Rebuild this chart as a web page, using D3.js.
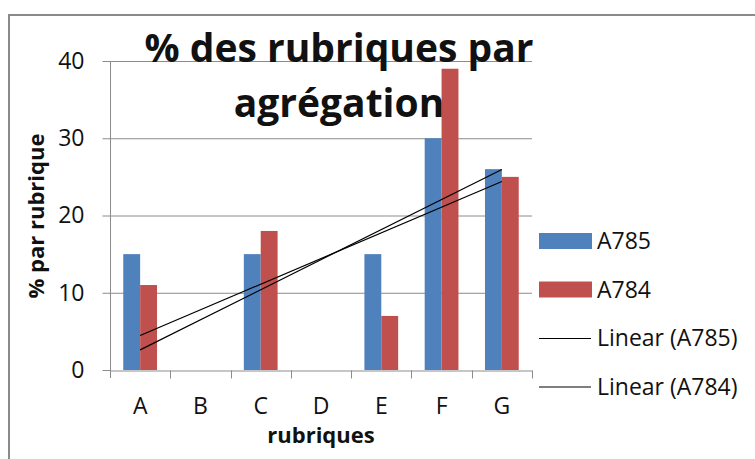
<!DOCTYPE html>
<meta charset="utf-8">
<style>
body { margin: 0; background: #fff; }
text { font-family: "Open Sans", sans-serif; fill: #111; }
.grid line { stroke: #8c8c8c; stroke-width: 1px; }
.trend { fill: none; stroke: #000; stroke-width: 1.2px; }
</style>
<body>
<svg id="chart" width="755" height="459"></svg>
<script src="https://d3js.org/d3.v7.min.js"></script>
<script>

// data
var categories = ["A", "B", "C", "D", "E", "F", "G"];
var seriesNames = ["A785", "A784"];
var a785 = [15, 0, 15, 0, 15, 30, 26];
var a784 = [11, 0, 18, 0, 7, 39, 25];
var yTicks = [0, 10, 20, 30, 40];
var colors = ["#4f81bd", "#c0504d"];

var plot = {left: 110, right: 532, top: 61, bottom: 370};

var svg = d3.select("#chart");

// chart frame (left and top edges only are visible)
svg.append("path")
    .attr("d", "M9,459V15H755")
    .attr("fill", "none")
    .attr("stroke", "#8a8a8a")
    .attr("stroke-width", 2);

var x = d3.scaleBand().domain(categories).range([plot.left, plot.right]);
var bw = x.bandwidth();
var xs = d3.scaleBand().domain(seriesNames).range([bw * 0.22, bw * 0.78]);
var y = d3.scaleLinear().domain([0, 40]).range([plot.bottom, plot.top]);

// gridlines
svg.append("g").attr("class", "grid")
  .selectAll("line")
  .data(yTicks.slice(1))
  .enter().append("line")
    .attr("x1", plot.left).attr("x2", plot.right)
    .attr("y1", function(d) { return y(d) + 0.5; })
    .attr("y2", function(d) { return y(d) + 0.5; });

// bars
var rows = categories.map(function(c, i) { return {cat: c, vals: [a785[i], a784[i]]}; });
svg.append("g").selectAll("g")
  .data(rows)
  .enter().append("g")
    .attr("transform", function(d) { return "translate(" + x(d.cat) + ",0)"; })
  .selectAll("rect")
  .data(function(d) { return d.vals.map(function(v, j) { return {name: seriesNames[j], v: v, j: j}; }); })
  .enter().append("rect")
    .attr("x", function(d) { return xs(d.name); })
    .attr("width", xs.bandwidth())
    .attr("y", function(d) { return y(d.v); })
    .attr("height", function(d) { return y(0) - y(d.v); })
    .attr("fill", function(d) { return colors[d.j]; });

// y axis
var yAxis = svg.append("g")
    .attr("transform", "translate(" + (plot.left + 0.5) + ",0)")
    .call(d3.axisLeft(y).tickValues(yTicks).tickSize(8).tickPadding(18).tickSizeOuter(0));
yAxis.select(".domain").attr("stroke", "#8c8c8c").attr("d", "M0," + plot.top + "V" + (plot.bottom + 8));
yAxis.selectAll(".tick line").attr("stroke", "#8c8c8c");
yAxis.selectAll(".tick text").style("font-size", "23px").attr("fill", "#222");

// x axis: line, boundary ticks, labels
var xAxis = svg.append("g")
    .attr("transform", "translate(0," + (plot.bottom + 0.5) + ")")
    .call(d3.axisBottom(x).tickSize(0).tickPadding(27).tickSizeOuter(0));
xAxis.select(".domain").attr("stroke", "#8c8c8c");
xAxis.selectAll(".tick text").style("font-size", "23px").attr("fill", "#222");
xAxis.selectAll(".bound")
  .data(categories)
  .enter().append("line")
    .attr("x1", function(d) { return Math.round(x(d) + bw) + 0.5; })
    .attr("x2", function(d) { return Math.round(x(d) + bw) + 0.5; })
    .attr("y1", 0).attr("y2", 8)
    .attr("stroke", "#8c8c8c");

// linear trendlines (least squares over category index)
function fit(vals) {
  var n = vals.length, mx = d3.mean(vals, function(v, i) { return i + 1; }), my = d3.mean(vals);
  var sxy = d3.sum(vals, function(v, i) { return (i + 1 - mx) * (v - my); });
  var sxx = d3.sum(vals, function(v, i) { return (i + 1 - mx) * (i + 1 - mx); });
  var b = sxy / sxx, a = my - b * mx;
  return [1, n].map(function(k) { return {cat: categories[k - 1], v: a + b * k}; });
}
var trendLine = d3.line()
    .x(function(d) { return x(d.cat) + bw / 2; })
    .y(function(d) { return y(d.v); });
[a785, a784].forEach(function(s) {
  svg.append("path").datum(fit(s)).attr("class", "trend").attr("d", trendLine);
});

// title
svg.append("text")
    .attr("x", 339).attr("y", 62)
    .attr("text-anchor", "middle")
    .style("font-size", "39px").style("font-weight", "bold")
    .text("% des rubriques par");
svg.append("text")
    .attr("x", 339).attr("y", 117)
    .attr("text-anchor", "middle")
    .style("font-size", "39px").style("font-weight", "bold")
    .text("agrégation");

// axis titles
svg.append("text")
    .attr("x", 321).attr("y", 443)
    .attr("text-anchor", "middle")
    .style("font-size", "22px").style("font-weight", "bold")
    .text("rubriques");
svg.append("text")
    .attr("transform", "translate(44,216) rotate(-90)")
    .attr("text-anchor", "middle")
    .style("font-size", "22px").style("font-weight", "bold")
    .text("% par rubrique");

// legend
var legendItems = [
  {label: "A785", type: "bar", color: colors[0]},
  {label: "A784", type: "bar", color: colors[1]},
  {label: "Linear (A785)", type: "line"},
  {label: "Linear (A784)", type: "line"}
];
var lg = svg.append("g").selectAll("g")
  .data(legendItems)
  .enter().append("g")
    .attr("transform", function(d, i) { return "translate(539," + (241 + i * 48.5) + ")"; });
lg.filter(function(d) { return d.type === "bar"; }).append("rect")
    .attr("x", 0).attr("y", -8).attr("width", 53).attr("height", 16)
    .attr("fill", function(d) { return d.color; });
lg.filter(function(d) { return d.type === "line"; }).append("line")
    .attr("x1", 0).attr("x2", 52).attr("y1", 0.5).attr("y2", 0.5)
    .attr("stroke", "#000").attr("stroke-width", 1.2);
lg.append("text")
    .attr("x", 58).attr("y", 8)
    .style("font-size", "23px")
    .text(function(d) { return d.label; });

</script>
</body>
